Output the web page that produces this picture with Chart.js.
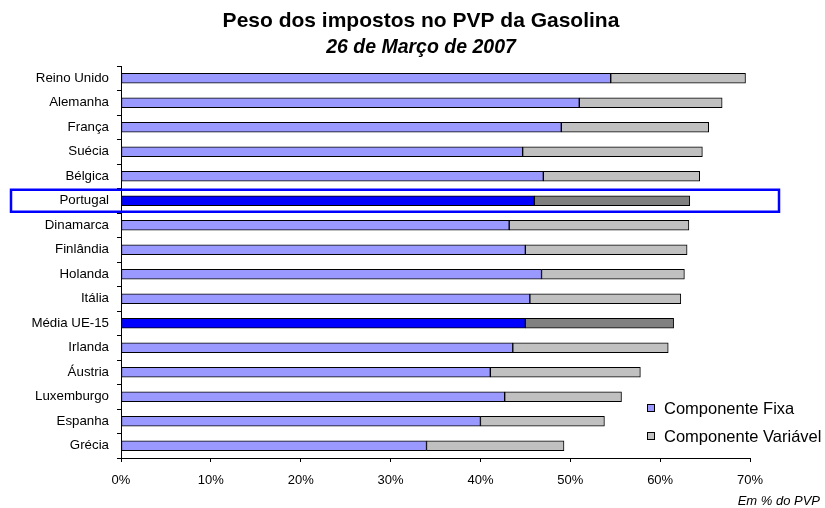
<!DOCTYPE html>
<html lang="pt">
<head>
<meta charset="utf-8">
<title>Peso dos impostos no PVP da Gasolina</title>
<script src="https://cdn.jsdelivr.net/npm/chart.js@4/dist/chart.umd.min.js"></script>
<style>
  html, body { margin: 0; padding: 0; background: #fff; }
  #wrap { width: 825px; height: 508px; }
</style>
</head>
<body>
<div id="wrap"><canvas id="chart" width="825" height="508"></canvas></div>
<script>
/* ---------- dados ---------- */
const paises = ['Reino Unido', 'Alemanha', 'França', 'Suécia', 'Bélgica', 'Portugal', 'Dinamarca',
  'Finlândia', 'Holanda', 'Itália', 'Média UE-15', 'Irlanda', 'Áustria', 'Luxemburgo', 'Espanha', 'Grécia'];
const compFixa     = [54.5, 51.0, 49.0, 44.7, 47.0, 46.0, 43.2, 45.0, 46.8, 45.5, 45.0, 43.6, 41.1, 42.7, 40.0, 34.0];
const compVariavel = [15.0, 15.9, 16.4, 20.0, 17.4, 17.3, 20.0, 18.0, 15.9, 16.8, 16.5, 17.3, 16.7, 13.0, 13.8, 15.3];
const xTicks = [0, 10, 20, 30, 40, 50, 60, 70];
const destaques = ['Portugal', 'Média UE-15'];
const caixaPais = 'Portugal';

/* ---------- cores ---------- */
const corFixa = p => destaques.includes(p) ? '#0000FF' : '#9999FF';
const corVar  = p => destaques.includes(p) ? '#808080' : '#C0C0C0';

const FONTE = "'Liberation Sans', Arial, sans-serif";
Chart.defaults.font.family = FONTE;
Chart.defaults.color = '#000';

/* ---------- títulos ---------- */
const titulosPlugin = {
  id: 'titulos',
  afterDraw(chart) {
    const { ctx } = chart;
    const cx = 421;
    ctx.save();
    ctx.fillStyle = '#000';
    ctx.textAlign = 'center';
    ctx.textBaseline = 'alphabetic';
    ctx.font = `bold 21px ${FONTE}`;
    ctx.fillText('Peso dos impostos no PVP da Gasolina', cx, 27);
    ctx.font = `italic bold 19.5px ${FONTE}`;
    ctx.fillText('26 de Março de 2007', cx, 53);
    ctx.restore();
  }
};

/* ---------- caixa à volta de Portugal ---------- */
const caixaPlugin = {
  id: 'caixa',
  afterDatasetsDraw(chart) {
    const y = chart.scales.y;
    const yc = y.getPixelForValue(paises.indexOf(caixaPais));
    const { ctx } = chart;
    ctx.save();
    ctx.strokeStyle = '#0000FF';
    ctx.lineWidth = 2.5;
    ctx.strokeRect(11, yc - 11, 768, 22);
    ctx.restore();
  }
};

/* ---------- legenda e nota ---------- */
const legendaPlugin = {
  id: 'legenda',
  afterDraw(chart) {
    const { ctx } = chart;
    ctx.save();
    ctx.font = `16.5px ${FONTE}`;
    ctx.textBaseline = 'middle';
    chart.data.datasets.forEach((ds, i) => {
      const y = 408 + i * 28;
      ctx.fillStyle = ds.backgroundColor[0];
      ctx.fillRect(647, y - 4, 8, 8);
      ctx.strokeStyle = '#000';
      ctx.lineWidth = 1;
      ctx.strokeRect(647.5, y - 3.5, 7, 7);
      ctx.fillStyle = '#000';
      ctx.fillText(ds.label, 664, y + 1);
    });
    ctx.font = `italic 13px ${FONTE}`;
    ctx.textAlign = 'right';
    ctx.fillText('Em % do PVP', 820, 501);
    ctx.restore();
  }
};

new Chart(document.getElementById('chart'), {
  type: 'bar',
  data: {
    labels: paises,
    datasets: [
      { label: 'Componente Fixa', data: compFixa, backgroundColor: paises.map(corFixa),
        borderColor: '#000', borderWidth: 1, borderSkipped: false },
      { label: 'Componente Variável', data: compVariavel, backgroundColor: paises.map(corVar),
        borderColor: '#000', borderWidth: 1, borderSkipped: false }
    ]
  },
  options: {
    indexAxis: 'y',
    responsive: false,
    animation: false,
    devicePixelRatio: 1,
    barThickness: 10,
    layout: { padding: { left: 0, right: 75, top: 66, bottom: 0 } },
    plugins: {
      legend: { display: false },
      tooltip: { enabled: false }
    },
    scales: {
      x: {
        stacked: true,
        min: 0,
        max: 70,
        afterBuildTicks: s => { s.ticks = xTicks.map(v => ({ value: v })); },
        afterFit: s => { s.height = 50; },
        ticks: { callback: v => v + '%', font: { size: 13 }, padding: 11, maxRotation: 0 },
        grid: { drawOnChartArea: false, drawTicks: true, tickLength: 4, color: '#000' },
        border: { color: '#000', width: 1 }
      },
      y: {
        stacked: true,
        afterFit: s => { s.width = 121; },
        ticks: { font: { size: 13.3 }, padding: 8, autoSkip: false },
        grid: { offset: true, drawOnChartArea: false, drawTicks: true, tickLength: 4, color: '#000' },
        border: { color: '#000', width: 1 }
      }
    }
  },
  plugins: [titulosPlugin, caixaPlugin, legendaPlugin]
});
</script>
</body>
</html>
